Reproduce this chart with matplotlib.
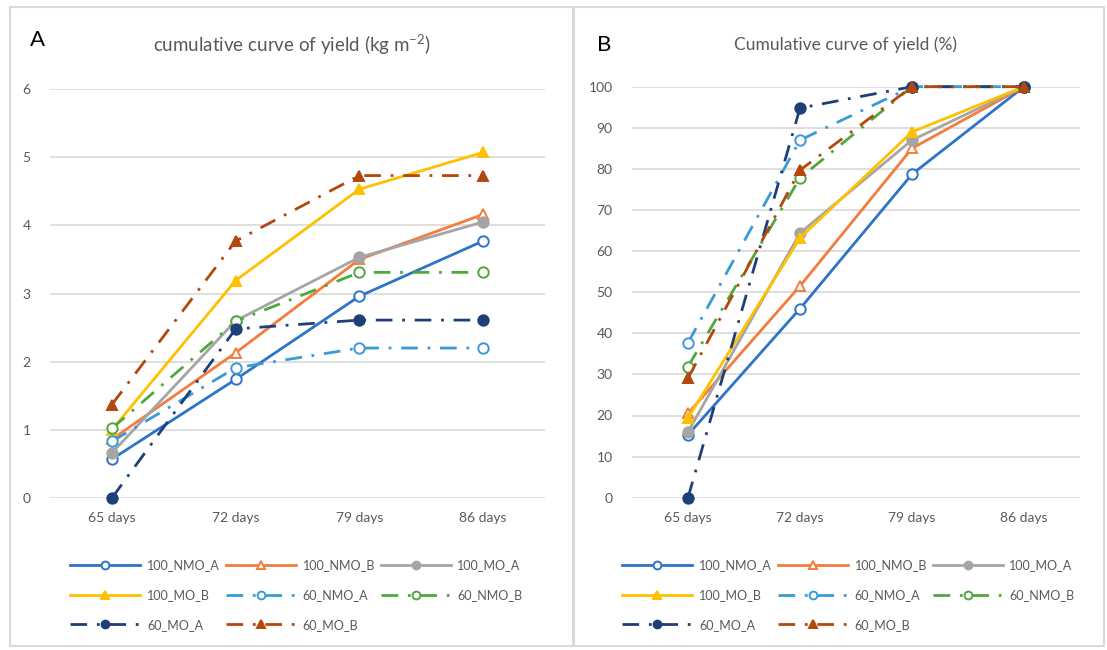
import matplotlib
matplotlib.use("Agg")
import matplotlib.pyplot as plt
from matplotlib.patches import Rectangle

plt.rcParams['font.family'] = ['Lato', 'DejaVu Sans']

categories = ["65 days", "72 days", "79 days", "86 days"]
series_names = ["100_NMO_A", "100_NMO_B", "100_MO_A", "100_MO_B",
                "60_NMO_A", "60_NMO_B", "60_MO_A", "60_MO_B"]

# Panel A: cumulative yield (kg m-2)
yield_kg = {
    "100_NMO_A": [0.57, 1.74, 2.96, 3.77],
    "100_NMO_B": [0.86, 2.13, 3.50, 4.16],
    "100_MO_A":  [0.66, 2.60, 3.53, 4.05],
    "100_MO_B":  [1.00, 3.19, 4.53, 5.07],
    "60_NMO_A":  [0.83, 1.91, 2.20, 2.20],
    "60_NMO_B":  [1.02, 2.59, 3.31, 3.31],
    "60_MO_A":   [0.00, 2.48, 2.61, 2.61],
    "60_MO_B":   [1.37, 3.77, 4.73, 4.73],
}
# Panel B: cumulative yield (%)
yield_pct = {
    "100_NMO_A": [15.3, 46.0, 78.7, 100],
    "100_NMO_B": [20.5, 51.5, 85.0, 100],
    "100_MO_A":  [16.0, 64.4, 87.0, 100],
    "100_MO_B":  [19.4, 63.2, 89.0, 100],
    "60_NMO_A":  [37.7, 87.0, 100, 100],
    "60_NMO_B":  [31.9, 77.8, 100, 100],
    "60_MO_A":   [0.0, 94.8, 100, 100],
    "60_MO_B":   [29.1, 79.7, 100, 100],
}

ld = (0, (6, 3.5, 1, 3.5))
styles = {
    "100_NMO_A": dict(color='#2E74C6', ls='-', marker='o', mfc='white'),
    "100_NMO_B": dict(color='#F47C3C', ls='-', marker='^', mfc='white'),
    "100_MO_A":  dict(color='#A5A5A5', ls='-', marker='o', mfc='#A5A5A5'),
    "100_MO_B":  dict(color='#FFC000', ls='-', marker='^', mfc='#FFC000'),
    "60_NMO_A":  dict(color='#3A9AD9', ls=ld, marker='o', mfc='white'),
    "60_NMO_B":  dict(color='#4EA83C', ls=ld, marker='o', mfc='white'),
    "60_MO_A":   dict(color='#1F3F78', ls=ld, marker='o', mfc='#1F3F78'),
    "60_MO_B":   dict(color='#B4470B', ls=ld, marker='^', mfc='#B4470B'),
}

W, H = 1107, 650
fig = plt.figure(figsize=(W / 100, H / 100), dpi=100)

def fx(px):
    return px / W

def fy(py):
    return 1 - py / H

# panel borders
for (x0, x1) in [(10, 573), (574, 1104)]:
    fig.patches.append(Rectangle((fx(x0), fy(646)), fx(x1 - x0), (646 - 7) / H,
                                 transform=fig.transFigure, fill=False,
                                 edgecolor='#D9D9D9', lw=1.5))

txt = '#595959'
# row-major legend order for 3 columns
leg_order = [0, 3, 6, 1, 4, 7, 2, 5]

def make_panel(rect, data, ylim, yticks, title, letter, title_xy, letter_xy, leg_anchor, title_size):
    ax = fig.add_axes(rect)
    x = list(range(len(categories)))
    for name in series_names:
        st = styles[name]
        ax.plot(x, data[name], color=st['color'], linestyle=st['ls'], lw=2.0,
                marker=st['marker'], markersize=7.5, markerfacecolor=st['mfc'],
                markeredgecolor=st['color'], markeredgewidth=1.4, label=name,
                clip_on=False)
    ax.set_xlim(-0.5, 3.5)
    ax.set_ylim(*ylim)
    ax.set_yticks(yticks)
    ax.set_xticks(x)
    ax.set_xticklabels(categories)
    ax.grid(axis='y', color='#D9D9D9', lw=1.2)
    ax.set_axisbelow(True)
    for s in ax.spines.values():
        s.set_visible(False)
    ax.tick_params(axis='both', length=0, colors=txt, labelsize=10)
    ax.tick_params(axis='y', pad=14)
    ax.tick_params(axis='x', pad=10)
    fig.text(fx(title_xy[0]), fy(title_xy[1]), title, ha='center', va='center',
             fontsize=title_size, color=txt)
    fig.text(fx(letter_xy[0]), fy(letter_xy[1]), letter, ha='center', va='center',
             fontsize=16, color='black')
    handles, labels = ax.get_legend_handles_labels()
    handles = [handles[i] for i in leg_order]
    labels = [labels[i] for i in leg_order]
    ax.legend(handles, labels, loc='upper left', bbox_to_anchor=leg_anchor,
              bbox_transform=fig.transFigure, ncol=3, frameon=False, fontsize=9,
              handlelength=5.6, handletextpad=0.55, columnspacing=0.45,
              labelspacing=1.42, numpoints=1, labelcolor=txt, markerscale=0.75)
    return ax

make_panel([fx(50), fy(498), fx(495), 409 / H], yield_kg, (0, 6), range(0, 7),
           r"cumulative curve of yield (kg m$^{\mathregular{-2}}$)", "A", (292, 45), (38, 40),
           (fx(59), fy(548)), 13.5)
make_panel([fx(632), fy(497.7), fx(448), 411 / H], yield_pct, (0, 100), range(0, 101, 10),
           "Cumulative curve of yield (%)", "B", (845, 45), (604, 45),
           (fx(611), fy(548)), 12.5)

fig.savefig("out.png", dpi=100)
